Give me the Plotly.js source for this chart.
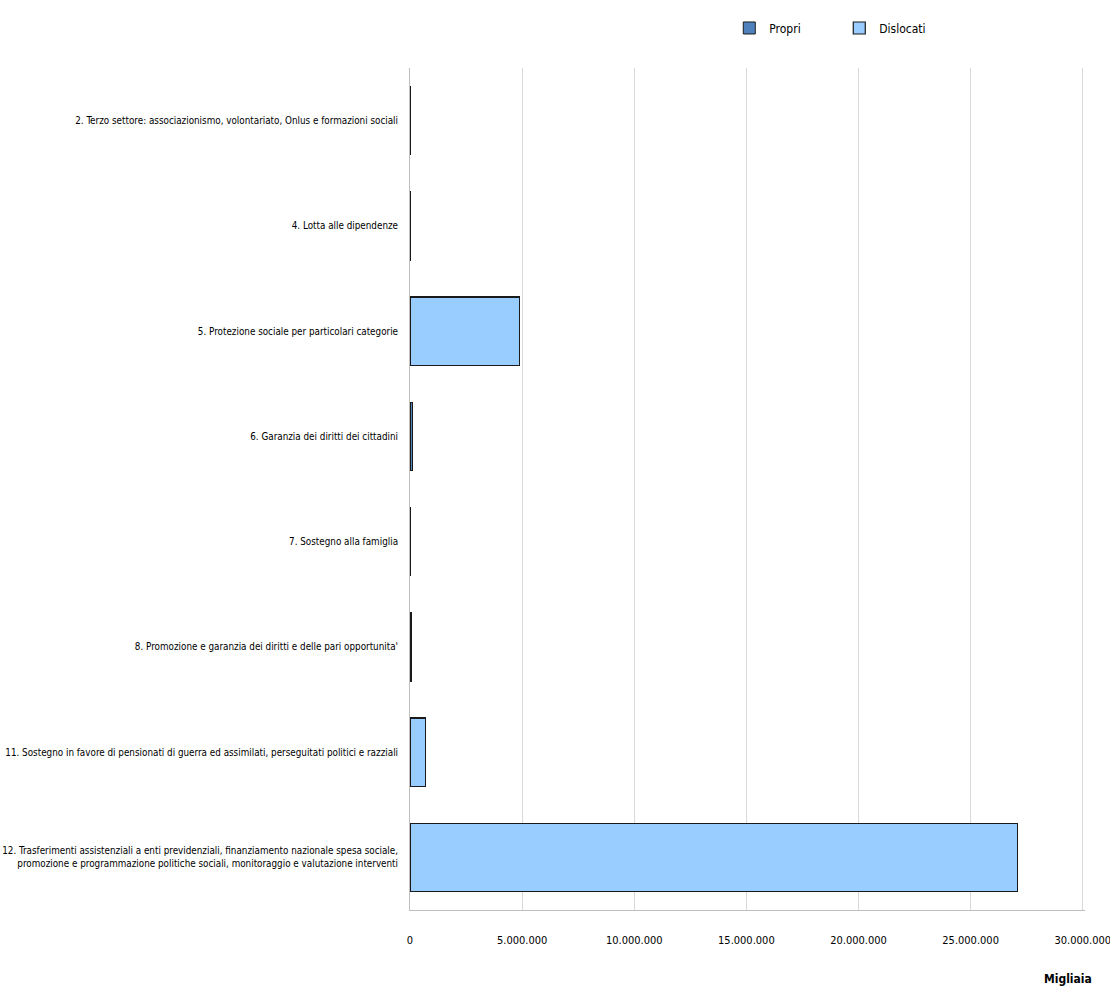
<!DOCTYPE html>
<html>
<head>
<meta charset="utf-8">
<script src="https://cdn.plot.ly/plotly-3.0.1.min.js"></script>
<style>
body{margin:0;padding:0;background:#fff;}
#chart{width:1110px;height:988px;}
#chart text{font-stretch:condensed !important;}
</style>
</head>
<body>
<div id="chart"></div>
<script>
const categories = [
  "2. Terzo settore: associazionismo, volontariato, Onlus e formazioni sociali",
  "4. Lotta alle dipendenze",
  "5. Protezione sociale per particolari categorie",
  "6. Garanzia dei diritti dei cittadini",
  "7. Sostegno alla famiglia",
  "8. Promozione e garanzia dei diritti e delle pari opportunita'",
  "11. Sostegno in favore di pensionati di guerra ed assimilati, perseguitati politici e razziali",
  "12. Trasferimenti assistenziali a enti previdenziali, finanziamento nazionale spesa sociale,<br>promozione e programmazione politiche sociali, monitoraggio e valutazione interventi"
];
const propri = [30000, 15000, 0, 100000, 25000, 60000, 0, 0];
const dislocati = [0, 0, 4900000, 0, 0, 0, 680000, 27100000];
const tickVals = [0, 5000000, 10000000, 15000000, 20000000, 25000000, 30000000];
const tickText = ["0", "5.000.000", "10.000.000", "15.000.000", "20.000.000", "25.000.000", "30.000.000"];

const FONT = "'DejaVu Sans Condensed', 'DejaVu Sans', sans-serif";

const data = [
  {type: "bar", orientation: "h", name: "Propri", y: categories, x: propri,
   marker: {color: "#4f81bd", line: {color: "#1a1a1a", width: 1}}, hoverinfo: "x+y"},
  {type: "bar", orientation: "h", name: "Dislocati", y: categories, x: dislocati,
   marker: {color: "#99ccff", line: {color: "#1a1a1a", width: 1.2}}, hoverinfo: "x+y"}
];

const layout = {
  width: 1110, height: 988,
  margin: {l: 410, r: 25, t: 68, b: 78},
  barmode: "stack",
  bargap: 0.35,
  paper_bgcolor: "#fff", plot_bgcolor: "#fff",
  font: {family: FONT, size: 11, color: "#000"},
  showlegend: true,
  legend: {orientation: "h", x: 0.473, xanchor: "left", y: 0.957, yanchor: "bottom",
           yref: "container", entrywidth: 65, font: {family: FONT, size: 12},
           traceorder: "normal", itemwidth: 30},
  xaxis: {range: [0, 30100000], tickvals: tickVals, ticktext: tickText,
          showgrid: true, gridcolor: "#d9d9d9", gridwidth: 1,
          zeroline: false, showline: true, linecolor: "#bfbfbf", linewidth: 1,
          ticks: "", tickfont: {family: FONT, size: 11}, ticklabelstandoff: 20,
          ticklabeloverflow: "allow", fixedrange: true},
  yaxis: {type: "category", autorange: "reversed", showgrid: false, zeroline: false,
          showline: true, linecolor: "#bfbfbf", linewidth: 1, ticks: "",
          tickfont: {family: FONT, size: 9.8}, ticklabelstandoff: 9, fixedrange: true},
  annotations: [
    {text: "<b>Migliaia</b>", xref: "paper", yref: "paper", x: 0.975, y: 0, yshift: -60,
     xanchor: "center", yanchor: "top", showarrow: false, font: {family: FONT, size: 12}}
  ]
};
Plotly.newPlot("chart", data, layout, {displayModeBar: false, responsive: false});
</script>
</body>
</html>
